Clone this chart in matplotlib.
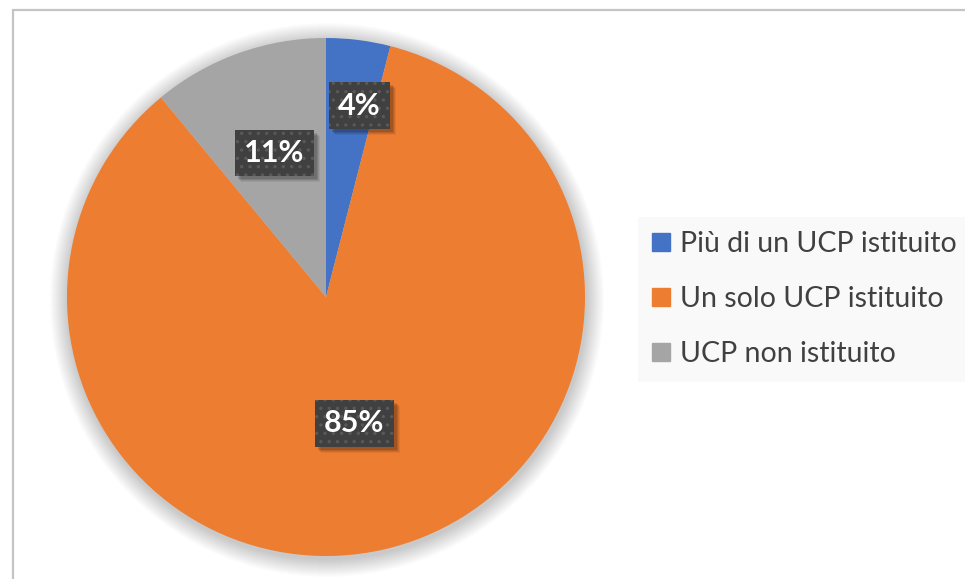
import numpy as np
import matplotlib.pyplot as plt
from matplotlib.patches import Circle, Rectangle
from matplotlib.lines import Line2D

labels = ['Più di un UCP istituito', 'Un solo UCP istituito', 'UCP non istituito']
values = [4, 85, 11]
colors = ['#4472C4', '#ED7D31', '#A5A5A5']
label_dist = [0.75, 0.5, 0.59]
label_frac = [0.32, 0.5, 0.5]

plt.rcParams['font.family'] = ['Lato', 'DejaVu Sans']
plt.rcParams['hatch.linewidth'] = 1.2

W, H = 965, 579
fig = plt.figure(figsize=(W / 100, H / 100), dpi=100)
ax = fig.add_axes([0, 0, 1, 1])

# chart border (cut off at right/bottom like the screenshot)
fig.patches.append(Rectangle((13 / W, -0.05), 1.0, (H - 10) / H + 0.05,
                             transform=fig.transFigure, fill=False,
                             edgecolor='#c4c4c4', lw=1.6, zorder=0))

cx, cy, R = 326, H - 297, 259

# soft shadow around the pie
for i in range(18):
    ax.add_patch(Circle((cx + 1, cy - 3), R + 18 - i, color='black',
                        alpha=0.013, lw=0, zorder=1))

wedges, _ = ax.pie(values, colors=colors, startangle=90, counterclock=False,
                   center=(cx, cy), radius=R, frame=True,
                   wedgeprops=dict(lw=0, zorder=2))
ax.set_xlim(0, W)
ax.set_ylim(0, H)
ax.set_aspect('equal')
ax.axis('off')

texts = []
for w, v, d, f in zip(wedges, values, label_dist, label_frac):
    ang = np.deg2rad(w.theta1 + f * (w.theta2 - w.theta1))
    x = cx + d * R * np.cos(ang)
    y = cy + d * R * np.sin(ang)
    t = ax.text(x, y, f'{v}%', ha='center', va='center', color='white',
                fontsize=22, fontweight='bold', zorder=5,
                bbox=dict(boxstyle='square,pad=0.3', facecolor='#404040',
                          edgecolor='#595959', lw=0, hatch='..'))
    texts.append(t)

# blurred drop shadow behind each label box
fig.canvas.draw()
inv = ax.transData.inverted()
for t in texts:
    bb = t.get_bbox_patch().get_window_extent()
    (x0, y0), (x1, y1) = inv.transform([[bb.x0, bb.y0], [bb.x1, bb.y1]])
    for o, a in [(6, 0.06), (5, 0.08), (4, 0.10), (3, 0.12)]:
        ax.add_patch(Rectangle((x0 + o, y0 - o), x1 - x0, y1 - y0,
                               facecolor='black', alpha=a, lw=0, zorder=4))

handles = [Line2D([], [], marker='s', ls='none', markersize=12.5,
                  markerfacecolor=c, markeredgecolor=c) for c in colors]
leg = fig.legend(handles, labels, loc='upper left',
                 bbox_to_anchor=(638 / W, (H - 217) / H), borderaxespad=0,
                 prop=dict(family='Lato', size=20.5), labelcolor='#404040',
                 frameon=True, fancybox=False, handlelength=0.65,
                 handletextpad=0.32, labelspacing=1.02, borderpad=0.5)
leg.get_frame().set_facecolor('#f8f8f8')
leg.get_frame().set_edgecolor('none')

fig.savefig('out.png', dpi=100)
